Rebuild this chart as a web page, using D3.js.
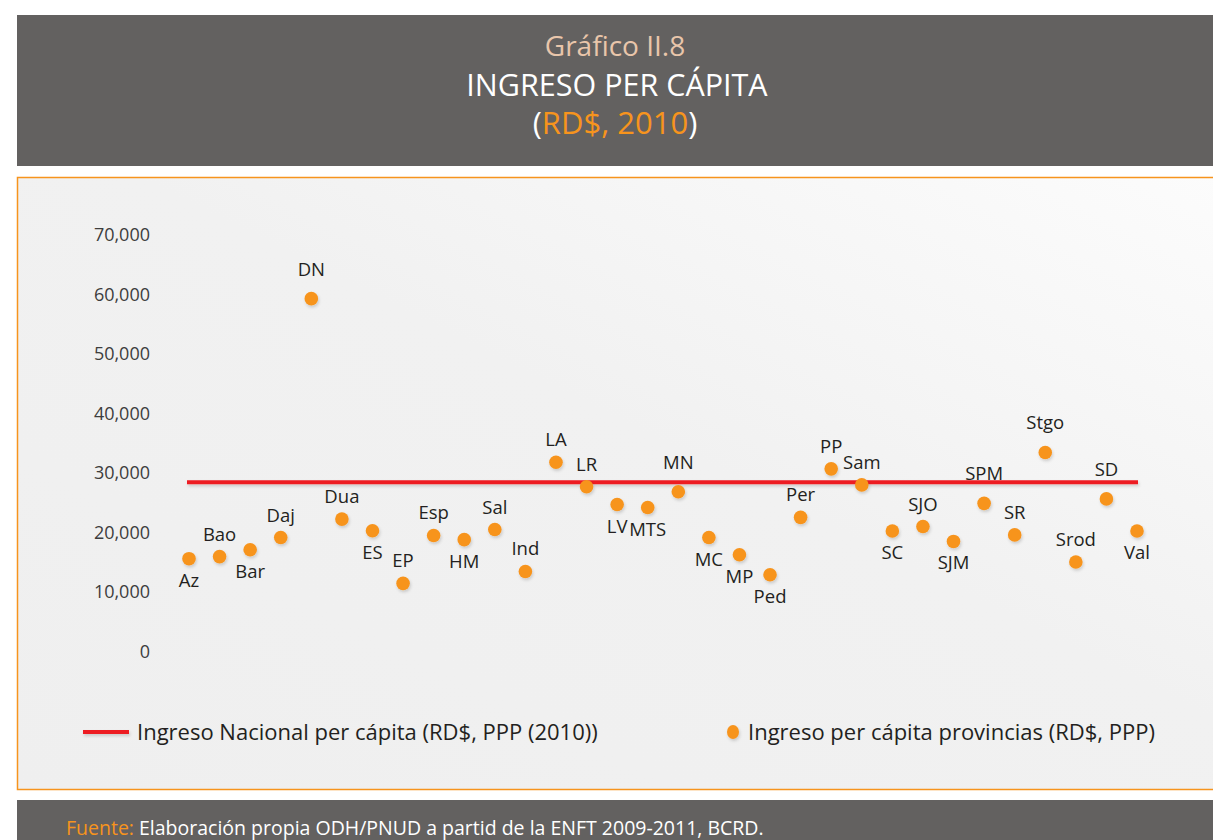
<!DOCTYPE html>
<html>
<head>
<meta charset="utf-8">
<script src="https://cdn.jsdelivr.net/npm/d3@7"></script>
<style>
  body { margin: 0; background: #fff; }
  svg { display: block; }
  text { font-family: "Open Sans", "Noto Sans", sans-serif; }
</style>
</head>
<body>
<div id="chart"></div>
<script>
// provincias (abreviaturas) y su ingreso per cápita, RD$ PPP
const provinces = ['Az', 'Bao', 'Bar', 'Daj', 'DN', 'Dua', 'ES', 'EP', 'Esp', 'HM', 'Sal', 'Ind',
  'LA', 'LR', 'LV', 'MTS', 'MN', 'MC', 'MP', 'Ped', 'Per', 'PP', 'Sam', 'SC', 'SJO', 'SJM',
  'SPM', 'SR', 'Stgo', 'Srod', 'SD', 'Val'];
const incomes = [15600, 15950, 17100, 19150, 59300, 22250, 20300, 11450, 19500, 18800, 20500, 13450,
  31800, 27700, 24700, 24200, 26850, 19150, 16250, 12900, 22550, 30700, 28000, 20250, 21000, 18500,
  24900, 19600, 33450, 15050, 25650, 20250];
const nationalIncome = 28450;
const yTicks = [0, 10000, 20000, 30000, 40000, 50000, 60000, 70000];
// etiquetas que van debajo del punto / las que van un poco más arriba
const labelsBelow = new Set(['Az', 'Bar', 'ES', 'HM', 'LV', 'MTS', 'MC', 'MP', 'Ped', 'SC', 'SJM', 'Val']);
const labelsRaised = new Set(['DN', 'MN', 'SPM', 'Stgo', 'SD']);

const W = 1213, H = 840;
const gray = '#636160', orange = '#f7941d', red = '#ed1c24', ink = '#231f20';

const svg = d3.select('#chart').append('svg')
  .attr('width', W)
  .attr('height', H);

const defs = svg.append('defs');
const grad = defs.append('linearGradient')
  .attr('id', 'panelGrad')
  .attr('x1', '0%').attr('y1', '100%')
  .attr('x2', '100%').attr('y2', '0%');
grad.append('stop').attr('offset', '0%').attr('stop-color', '#efefef');
grad.append('stop').attr('offset', '55%').attr('stop-color', '#f1f1f1');
grad.append('stop').attr('offset', '100%').attr('stop-color', '#fcfcfc');

// user space so the flat lines keep their shadow too
const shadow = defs.append('filter').attr('id', 'shadow')
  .attr('filterUnits', 'userSpaceOnUse')
  .attr('x', 0).attr('y', 0).attr('width', W).attr('height', H);
shadow.append('feDropShadow')
  .attr('dx', 1).attr('dy', 2).attr('stdDeviation', 1.5)
  .attr('flood-color', '#000').attr('flood-opacity', 0.16);

// header band
svg.append('rect')
  .attr('x', 17).attr('y', 15)
  .attr('width', W - 17).attr('height', 151)
  .attr('fill', gray);

svg.append('text')
  .attr('x', 615).attr('y', 56)
  .attr('text-anchor', 'middle')
  .attr('font-size', 28)
  .attr('fill', '#e9c6ab')
  .text('Gráfico II.8');

svg.append('text')
  .attr('x', 617).attr('y', 96)
  .attr('text-anchor', 'middle')
  .attr('font-size', 30.5)
  .attr('fill', '#fff')
  .text('INGRESO PER CÁPITA');

const sub = svg.append('text')
  .attr('x', 615).attr('y', 134)
  .attr('text-anchor', 'middle')
  .attr('font-size', 31)
  .attr('fill', '#fff');
sub.append('tspan').text('(');
sub.append('tspan').attr('fill', orange).text('RD$, 2010');
sub.append('tspan').text(')');

// chart panel
svg.append('rect')
  .attr('x', 17.5).attr('y', 177.5)
  .attr('width', W).attr('height', 612)
  .attr('fill', 'url(#panelGrad)')
  .attr('stroke', orange)
  .attr('stroke-width', 1.5);

// footer band
svg.append('rect')
  .attr('x', 17).attr('y', 800)
  .attr('width', W - 17).attr('height', 40)
  .attr('fill', gray);

const foot = svg.append('text')
  .attr('x', 66).attr('y', 835)
  .attr('font-size', 19.5)
  .attr('fill', '#fff');
foot.append('tspan').attr('fill', orange).text('Fuente: ');
foot.append('tspan').text('Elaboración propia ODH/PNUD a partid de la ENFT 2009-2011, BCRD.');

// scales
const x = d3.scalePoint()
  .domain(provinces)
  .range([189, 1137]);

const y = d3.scaleLinear()
  .domain([0, 70000])
  .range([651.5, 235]);

const yAxis = d3.axisLeft(y)
  .tickValues(yTicks)
  .tickSize(0)
  .tickPadding(0)
  .tickFormat(d3.format(','));

svg.append('g')
  .attr('transform', 'translate(150,0)')
  .call(yAxis)
  .call(g => g.select('.domain').remove())
  .call(g => g.selectAll('text')
    .attr('font-family', '"Open Sans", sans-serif')
    .attr('font-size', 18)
    .attr('fill', '#3d3d3d'));

// national line
svg.append('line')
  .attr('x1', x(provinces[0]) - 2)
  .attr('x2', x(provinces[provinces.length - 1]) + 1)
  .attr('y1', y(nationalIncome))
  .attr('y2', y(nationalIncome))
  .attr('stroke', red)
  .attr('stroke-width', 4)
  .attr('filter', 'url(#shadow)');

// points
const data = provinces.map((p, i) => ({name: p, value: incomes[i]}));

svg.append('g')
  .selectAll('circle')
  .data(data)
  .join('circle')
  .attr('cx', d => x(d.name))
  .attr('cy', d => y(d.value))
  .attr('r', 6.8)
  .attr('fill', orange)
  .attr('filter', 'url(#shadow)');

svg.append('g')
  .selectAll('text')
  .data(data)
  .join('text')
  .attr('x', d => x(d.name))
  .attr('y', d => {
    if (labelsBelow.has(d.name)) return y(d.value) + 28;
    return y(d.value) - (labelsRaised.has(d.name) ? 23 : 16);
  })
  .attr('text-anchor', 'middle')
  .attr('font-size', 18.5)
  .attr('fill', ink)
  .text(d => d.name);

// legend
const legY = 732;
svg.append('line')
  .attr('x1', 83).attr('x2', 129)
  .attr('y1', legY).attr('y2', legY)
  .attr('stroke', red)
  .attr('stroke-width', 4)
  .attr('filter', 'url(#shadow)');

svg.append('text')
  .attr('x', 137).attr('y', legY + 8)
  .attr('font-size', 22)
  .attr('fill', ink)
  .text('Ingreso Nacional per cápita (RD$, PPP (2010))');

svg.append('ellipse')
  .attr('cx', 733).attr('cy', legY)
  .attr('rx', 6).attr('ry', 7)
  .attr('fill', orange)
  .attr('filter', 'url(#shadow)');

svg.append('text')
  .attr('x', 748).attr('y', legY + 8)
  .attr('font-size', 22)
  .attr('fill', ink)
  .text('Ingreso per cápita provincias (RD$, PPP)');
</script>
</body>
</html>
